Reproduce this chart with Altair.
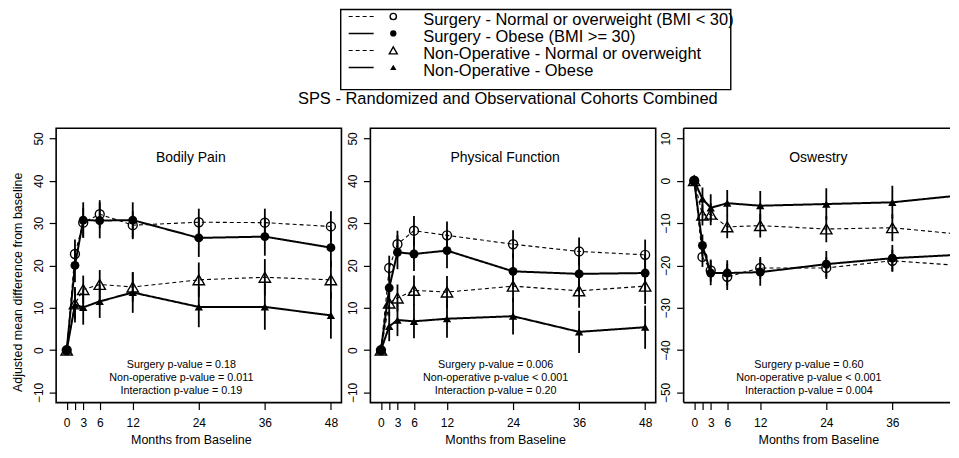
import altair as alt
import pandas as pd

F = "Liberation Sans"

months = [0, 1.5, 3, 6, 12, 24, 36, 48]
x_ticks = [0, 1.5, 3, 6, 12, 24, 36, 48]
x_ticks_cut = [0, 1.5, 3, 6, 12, 24, 36]

groups = [
    "Surgery - Normal or overweight (BMI < 30)",
    "Surgery - Obese (BMI >= 30)",
    "Non-Operative - Normal or overweight",
    "Non-Operative - Obese",
]

main_title = "SPS - Randomized and Observational Cohorts Combined"
panel_names = ["Bodily Pain", "Physical Function", "Oswestry"]

# Bodily Pain
bp_sn = [0, 22.7, 30.1, 32.1, 29.5, 30.2, 30.1, 29.2]
bp_so = [0, 20.0, 30.7, 30.6, 30.7, 26.5, 26.8, 24.2]
bp_nn = [0, 10.9, 14.3, 15.5, 14.9, 16.6, 17.2, 16.6]
bp_no = [0, 10.7, 10.1, 11.5, 13.6, 10.2, 10.2, 8.2]
bp_sn_err = [0, 3.4, 3.5, 3.3, 3.3, 3.2, 3.3, 3.6]
bp_so_err = [0, 4.0, 4.2, 4.2, 4.2, 4.5, 4.5, 4.6]
bp_nn_err = [0, 3.6, 3.3, 3.4, 3.5, 4.1, 4.3, 4.5]
bp_no_err = [0, 4.2, 4.1, 3.9, 4.8, 4.8, 5.4, 5.5]
bp_p = ["Surgery p-value = 0.18", "Non-operative p-value = 0.011", "Interaction p-value = 0.19"]

# Physical Function
pf_sn = [0, 19.4, 25.0, 28.2, 27.1, 25.0, 23.3, 22.5]
pf_so = [0, 14.7, 23.1, 22.7, 23.5, 18.6, 18.0, 18.2]
pf_nn = [0, 11.1, 12.3, 14.1, 13.7, 15.1, 14.0, 15.1]
pf_no = [0, 5.6, 7.1, 6.8, 7.4, 8.0, 4.3, 5.4]
pf_sn_err = [0, 2.9, 3.2, 3.5, 3.3, 3.3, 3.3, 3.6]
pf_so_err = [0, 3.6, 4.0, 4.0, 4.2, 4.2, 4.3, 4.4]
pf_nn_err = [0, 3.0, 3.2, 3.5, 3.8, 3.8, 4.0, 4.2]
pf_no_err = [0, 3.5, 3.8, 4.0, 4.5, 4.3, 5.0, 5.1]
pf_p = ["Surgery p-value = 0.006", "Non-operative p-value < 0.001", "Interaction p-value = 0.20"]

# Oswestry
od_sn = [0, -18.0, -21.2, -22.7, -20.6, -20.6, -18.9, -20.0]
od_so = [0, -15.3, -21.8, -21.8, -21.6, -19.7, -18.3, -17.5]
od_nn = [0, -8.1, -7.9, -10.9, -10.6, -11.4, -11.1, -12.6]
od_no = [0, -4.3, -6.4, -5.3, -5.9, -5.5, -5.1, -3.5]
od_sn_err = [0, 2.4, 2.6, 3.1, 2.6, 2.6, 2.6, 2.6]
od_so_err = [0, 2.6, 2.9, 3.0, 3.2, 3.1, 3.1, 3.4]
od_nn_err = [0, 2.5, 2.6, 2.7, 2.8, 3.1, 3.2, 3.5]
od_no_err = [0, 2.7, 3.2, 3.1, 3.5, 3.7, 3.9, 4.0]
od_p = ["Surgery p-value = 0.60", "Non-operative p-value < 0.001", "Interaction p-value = 0.004"]

y_ticks_pos = [-10, 0, 10, 20, 30, 40, 50]
y_ticks_neg = [-50, -40, -30, -20, -10, 0, 10]

dashes = [[4, 3], [1, 0], [4, 3], [1, 0]]
line_widths = [1.1, 2.0, 1.1, 2.0]
leg_widths = [1.1, 1.5, 1.1, 1.5]
shapes = ["circle", "circle", "triangle-up", "triangle-up"]
filleds = [False, True, False, True]
sizes = [80, 80, 130, 70]
leg_sizes = [40, 40, 64, 40]

PX = 5.517  # pixels per month (plot width 286 for 51.84 months)


def make_panel(name, vals, errs, ydom, yvals, pvals, first, width, xticks, framed):
    rows = []
    for g, v, e in zip(groups, vals, errs):
        for m, vv, ee in zip(months, v, e):
            rows.append({"group": g, "month": m, "value": vv, "lo": vv - ee, "hi": vv + ee})
    df = pd.DataFrame(rows)
    base = alt.Chart(df)
    xmax = -1.92 + width / PX
    xsc = alt.Scale(domain=[-1.92, xmax], nice=False, zero=False)
    ysc = alt.Scale(domain=ydom, nice=False, zero=False)
    xax = alt.Axis(
        values=xticks, labelExpr="datum.value == 1.5 ? '' : datum.label",
        title="Months from Baseline", tickSize=7, tickWidth=1.2, tickColor="black",
        domain=False, grid=False, labelFontSize=12, labelColor="black", labelPadding=8,
        labelFlush=False, labelOverlap=False, titlePadding=5, titleFontSize=12.5,
        titleFontWeight="normal", titleColor="black", titleX=135,
    )
    yargs = dict(
        values=yvals, labelAngle=270, tickSize=7, tickWidth=1.2, tickColor="black",
        domain=False, grid=False, labelFontSize=12, labelColor="black", labelPadding=4,
        labelOverlap=False, labelFlush=False,
    )
    if first:
        yax = alt.Axis(title="Adjusted mean difference from baseline", titlePadding=8,
                       titleFontSize=12.5, titleFontWeight="normal", titleColor="black",
                       titleY=154, **yargs)
    else:
        yax = alt.Axis(title=None, **yargs)
    x = alt.X("month:Q", scale=xsc, axis=xax)
    y = alt.Y("value:Q", scale=ysc, axis=yax)
    xs = alt.X("month:Q", scale=xsc)
    clip = not framed
    layers = []
    for i, (g, dsh, lw) in enumerate(zip(groups, dashes, line_widths)):
        enc_x = x if i == 0 else xs
        enc_y = y if i == 0 else alt.Y("value:Q", scale=ysc)
        layers.append(
            base.transform_filter(alt.datum.group == g).mark_line(
                color="black", strokeDash=dsh, strokeWidth=lw, clip=clip
            ).encode(x=enc_x, y=enc_y)
        )
    layers.append(
        base.transform_filter("datum.month > 0").mark_rule(color="black", strokeWidth=1.8, clip=clip).encode(
            x=xs, y=alt.Y("lo:Q", scale=ysc), y2="hi:Q")
    )
    for g, sh, fl, sz in zip(groups, shapes, filleds, sizes):
        layers.append(
            base.transform_filter(alt.datum.group == g).mark_point(
                shape=sh, filled=fl, size=sz, color="black", strokeWidth=1.4, opacity=1, clip=clip
            ).encode(x=xs, y=alt.Y("value:Q", scale=ysc))
        )
    tdf = pd.DataFrame({"t": [name]})
    layers.append(alt.Chart(tdf).mark_text(font=F, fontSize=14, color="black", baseline="middle").encode(
        x=alt.value(135), y=alt.value(30), text="t:N"))
    for txt, yy in zip(pvals, [237, 250.5, 263.5]):
        pdf = pd.DataFrame({"t": [txt]})
        layers.append(alt.Chart(pdf).mark_text(font=F, fontSize=10.8, color="black", baseline="middle").encode(
            x=alt.value(125.5), y=alt.value(yy), text="t:N"))
    if framed:
        return alt.layer(*layers).properties(width=width, height=275)
    # open-right frame (the panel runs off the page edge)
    one = pd.DataFrame({"a": [0]})
    fr = alt.Chart(one)
    layers.append(fr.mark_rule(color="black", strokeWidth=1.6).encode(
        x=alt.value(0), x2=alt.value(width), y=alt.value(0)))
    layers.append(fr.mark_rule(color="black", strokeWidth=1.6).encode(
        x=alt.value(0), x2=alt.value(width), y=alt.value(275)))
    layers.append(fr.mark_rule(color="black", strokeWidth=1.6).encode(
        x=alt.value(0), y=alt.value(0), y2=alt.value(275)))
    return alt.layer(*layers).properties(
        width=width, height=275, view=alt.ViewBackground(strokeWidth=0, strokeOpacity=0))


p1 = make_panel(panel_names[0], [bp_sn, bp_so, bp_nn, bp_no], [bp_sn_err, bp_so_err, bp_nn_err, bp_no_err],
                [-12.4, 52.4], y_ticks_pos, bp_p, True, 286, x_ticks, True)
p2 = make_panel(panel_names[1], [pf_sn, pf_so, pf_nn, pf_no], [pf_sn_err, pf_so_err, pf_nn_err, pf_no_err],
                [-12.4, 52.4], y_ticks_pos, pf_p, False, 286, x_ticks, True)
p3 = make_panel(panel_names[2], [od_sn, od_so, od_nn, od_no], [od_sn_err, od_so_err, od_nn_err, od_no_err],
                [-52.4, 12.4], y_ticks_neg, od_p, False, 267, x_ticks_cut, False)

# Header: legend box + main title (x measured from the first panel's plot edge)
ldf = pd.DataFrame({"group": groups})
lbase = alt.Chart(ldf)
ly = alt.Y("group:N", scale=alt.Scale(type="point", domain=groups, range=[7, 58], padding=0), axis=None)
box = alt.Chart(pd.DataFrame({"a": [0]})).mark_rect(fillOpacity=0, stroke="black", strokeWidth=1.4).encode(
    x=alt.value(285.25), x2=alt.value(676.25), y=alt.value(0), y2=alt.value(80.3))
hl = [box]
for g, dsh, lw in zip(groups, dashes, leg_widths):
    hl.append(lbase.transform_filter(alt.datum.group == g).mark_rule(
        color="black", strokeDash=dsh, strokeWidth=lw).encode(
        x=alt.value(293.25), x2=alt.value(318.25), y=ly))
for g, sh, fl, sz in zip(groups, shapes, filleds, leg_sizes):
    hl.append(lbase.transform_filter(alt.datum.group == g).mark_point(
        shape=sh, filled=fl, size=sz, color="black", strokeWidth=1.4, opacity=1).encode(
        x=alt.value(337.95), y=ly))
hl.append(lbase.mark_text(font=F, fontSize=16.5, color="black", align="left", baseline="middle", dy=4).encode(
    x=alt.value(367.95), y=ly, text="group:N"))
hl.append(alt.Chart(pd.DataFrame({"t": [main_title]})).mark_text(
    font=F, fontSize=16.5, color="black", align="center", baseline="alphabetic").encode(
    x=alt.value(452.75), y=alt.value(95), text="t:N"))
header = alt.layer(*hl).properties(width=800, height=118, view=alt.ViewBackground(strokeOpacity=0, strokeWidth=0))

row = alt.hconcat(p1, p2, p3, spacing=3)
chart = alt.vconcat(header, row, spacing=0).properties(
    padding={"left": 2.25, "top": 0, "right": 0, "bottom": 0}
).configure_view(stroke="black", strokeWidth=1.6).configure_axis(labelFont=F, titleFont=F)

chart.save("out.html", embed_options={"renderer": "svg", "actions": False})
